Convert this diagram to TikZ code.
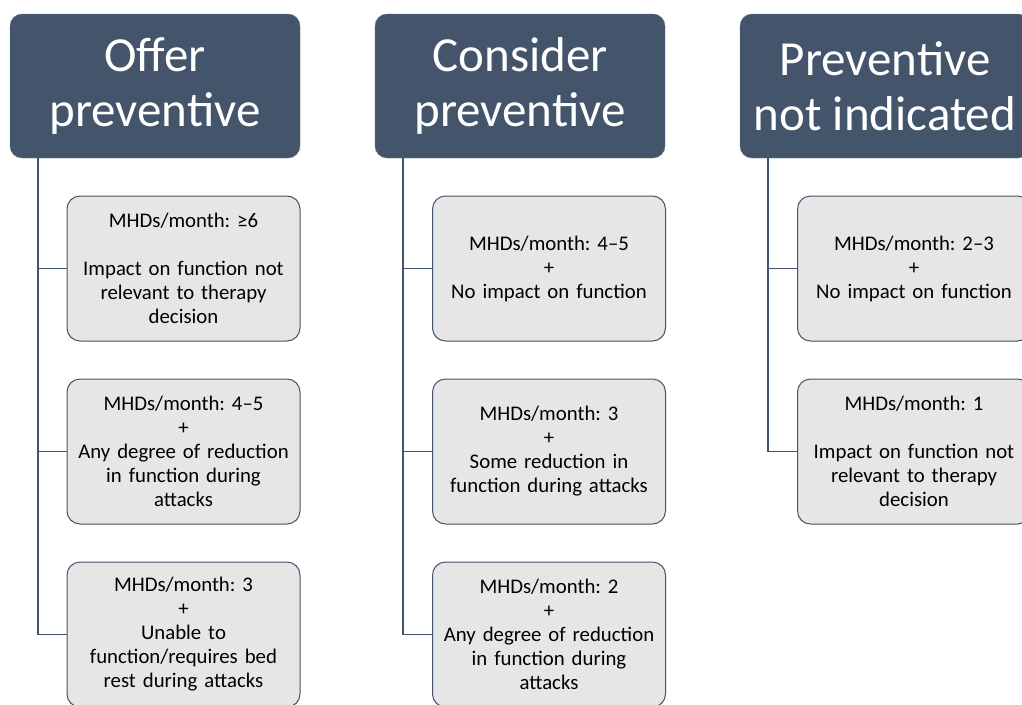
\documentclass[tikz,border=0pt]{standalone}
\usepackage{fontspec}
\setmainfont{Carlito}
\frenchspacing
\definecolor{slate}{HTML}{44546A}
\definecolor{lightbox}{HTML}{E7E6E6}
\begin{document}
\begin{tikzpicture}[x=1pt,y=-1pt,
    head/.style={fill=slate,draw=slate!80,rounded corners=12pt,text=white,
      minimum width=290pt,minimum height=144pt,inner sep=0pt,align=center,
      font=\fontsize{49}{55}\selectfont},
    crit/.style={fill=lightbox,draw=slate,line width=1pt,rounded corners=13pt,
      minimum width=233pt,minimum height=145pt,inner sep=0pt,text width=230pt,align=center,
      font=\fontsize{20.8}{24}\selectfont},
    link/.style={draw=slate,line width=1.5pt}]
  \useasboundingbox (0,0) rectangle (1022,704);
  \clip (0,0) rectangle (1022,704);
  % headers
  \node[head] (o) at (155,86) {Offer\\preventive};
  \node[head] (c) at (520,86) {Consider\\preventive};
  \node[head] (n) at (885,86) {Preventive\\not indicated};
  % criteria
  \node[crit] (o1) at (183.5,268.5) {MHDs/month: ≥6\\[24pt]Impact on function not\\relevant to therapy\\decision};
  \node[crit] (o2) at (183.5,451.5) {MHDs/month: 4–5\\+\\Any degree of reduction\\in function during\\attacks};
  \node[crit] (o3) at (183.5,634.5) {MHDs/month: 3\\+\\Unable to\\function/requires bed\\rest during attacks};
  \node[crit] (c1) at (549,268.5) {MHDs/month: 4–5\\+\\No impact on function};
  \node[crit] (c2) at (549,451.5) {MHDs/month: 3\\+\\Some reduction in\\function during attacks};
  \node[crit] (c3) at (549,634.5) {MHDs/month: 2\\+\\Any degree of reduction\\in function during\\attacks};
  \node[crit] (n1) at (914,268.5) {MHDs/month: 2–3\\+\\No impact on function};
  \node[crit] (n2) at (914,451.5) {MHDs/month: 1\\[24pt]Impact on function not\\relevant to therapy\\decision};
  \begin{scope}[link]
    \draw ([xshift=28pt]o.south west) |- (o3.west);
    \draw ([xshift=28pt]o.south west) |- (o2.west);
    \draw ([xshift=28pt]o.south west) |- (o1.west);
    \draw ([xshift=28pt]c.south west) |- (c3.west);
    \draw ([xshift=28pt]c.south west) |- (c2.west);
    \draw ([xshift=28pt]c.south west) |- (c1.west);
    \draw ([xshift=28pt]n.south west) |- (n2.west);
    \draw ([xshift=28pt]n.south west) |- (n1.west);
  \end{scope}
\end{tikzpicture}
\end{document}
